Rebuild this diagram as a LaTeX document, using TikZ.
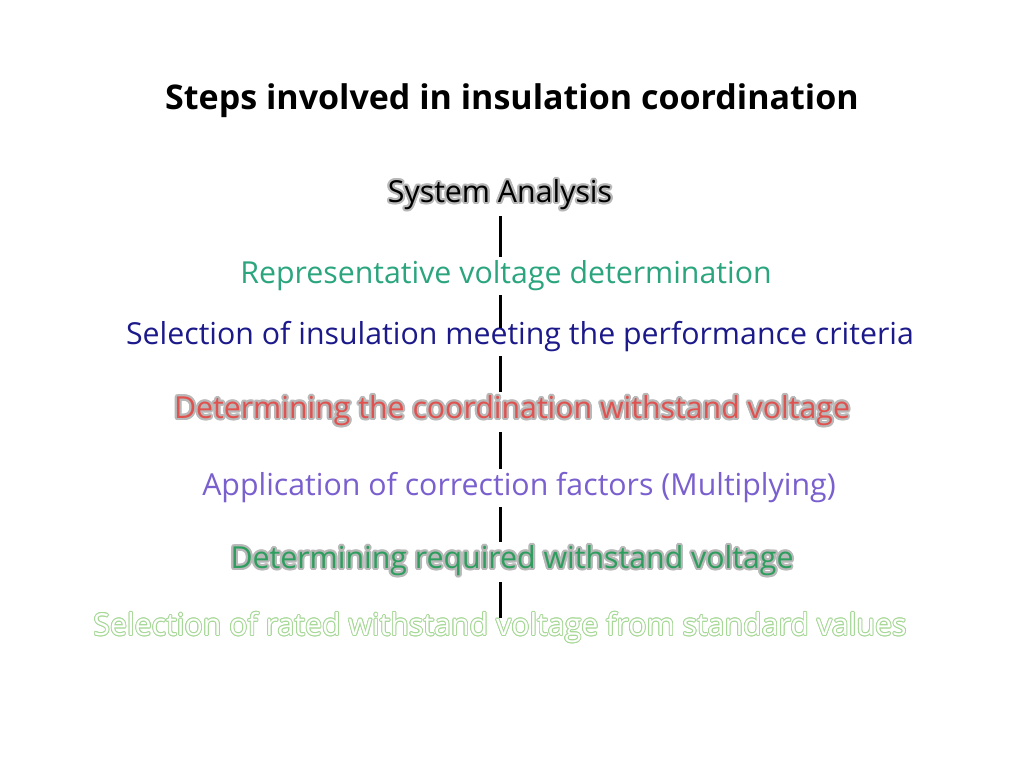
\documentclass[tikz,border=0pt]{standalone}
\usepackage{fontspec}
\setmainfont{Open Sans}
\usepackage{contour}
\contournumber{12}
\definecolor{cteal}{HTML}{2BA57E}
\definecolor{cnavy}{HTML}{1C1A8A}
\definecolor{cred}{HTML}{E0524F}
\definecolor{cpurple}{HTML}{7A5FCF}
\definecolor{cgreen}{HTML}{2E9E5E}
\definecolor{clight}{HTML}{A6D896}
\definecolor{cglow}{HTML}{B8B8B8}
\begin{document}
\begin{tikzpicture}[x=1pt,y=-1pt,
  stepnode/.style={inner sep=0pt,font=\fontsize{30.3}{34}\selectfont},
  conn/.style={line width=3pt,black}]
\useasboundingbox[fill=white] (0,0) rectangle (1024,768);
\node[inner sep=0pt,font=\fontsize{34}{38}\selectfont\bfseries] (title) at (512,101) {Steps involved in insulation coordination};
\contourlength{2.2pt}
\node[stepnode] (s1) at (500,196) {\contour{cglow}{System Analysis}};
\node[stepnode,text=cteal] (s2) at (506,276) {Representative voltage determination};
\node[stepnode,text=cnavy] (s3) at (520,337) {Selection of insulation meeting the performance criteria};
\node[stepnode] (s4) at (512,412) {\contour{cglow}{\color{cred}Determining the coordination withstand voltage}};
\node[stepnode,text=cpurple] (s5) at (519,488) {Application of correction factors (Multiplying)};
\node[stepnode] (s6) at (512,562) {\contour{cglow}{\color{cgreen}Determining required withstand voltage}};
\contourlength{0.9pt}
\node[stepnode] (s7) at (500,628) {\contour{clight}{\color{white}Selection of rated withstand voltage from standard values}};
\coordinate (ax) at (500,0);
\draw[conn] ([yshift=-4pt]s1.south -| ax) -- ([yshift=4pt]s2.north -| ax);
\draw[conn] ([yshift=-4pt]s2.south -| ax) -- ([yshift=-6pt]s3.north -| ax);
\draw[conn] ([yshift=-4pt]s3.south -| ax) -- ([yshift=4pt]s4.north -| ax);
\draw[conn] ([yshift=-4pt]s4.south -| ax) -- ([yshift=4pt]s5.north -| ax);
\draw[conn] ([yshift=-4pt]s5.south -| ax) -- ([yshift=4pt]s6.north -| ax);
\draw[conn] ([yshift=-4pt]s6.south -| ax) -- ([yshift=-6pt]s7.north -| ax);
\end{tikzpicture}
\end{document}
